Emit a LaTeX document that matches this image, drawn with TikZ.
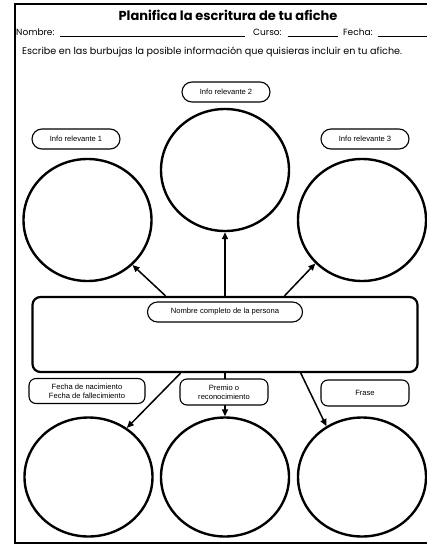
\documentclass[tikz,border=0pt]{standalone}
\usepackage{fontspec}
\setmainfont{Liberation Sans}
\newfontfamily\handfont{Poppins}
\usetikzlibrary{positioning,arrows.meta,shapes.geometric}

\begin{document}
\begin{tikzpicture}[
      x=1pt, y=-1pt,
      bubble/.style  = {ellipse, draw, line width=2.4pt, inner sep=0pt,
                        minimum width=128pt, minimum height=122pt},
      pill/.style    = {rectangle, draw, rounded corners=10pt, line width=1.1pt,
                        fill=white, align=center, minimum width=88pt,
                        minimum height=20pt, inner sep=1pt,
                        font=\fontsize{7.6}{8.6}\selectfont},
      tag/.style     = {pill, rounded corners=7pt, minimum height=26pt},
      mainbox/.style = {rectangle, draw, rounded corners=8pt, line width=2.2pt,
                        minimum width=385pt, minimum height=75pt},
      arrow/.style   = {-{Triangle[length=7pt,width=6pt]}, line width=1.5pt},
      head/.style    = {anchor=west, inner sep=0pt,
                        font=\handfont\fontsize{9}{10}\selectfont}
    ]
    \useasboundingbox (0,0) rectangle (427,546);
    % sheet frame
    \draw[line width=2.4pt] (430,4) -- (15,4) -- (15,543) -- (430,543);

    % header
    \node[font=\handfont\bfseries\fontsize{13}{14}\selectfont] (title)
          at (228,15) {Planifica la escritura de tu afiche};
    \node[head] (nombre) at (16,33) {Nombre:\hspace{6pt}\rule[-1pt]{185pt}{0.5pt}};
    \node[head] (curso)  at (253,33) {Curso:\hspace{6pt}\rule[-1pt]{50pt}{0.5pt}};
    \node[head] (fecha)  at (343,33) {Fecha:\hspace{5pt}\rule[-1pt]{60pt}{0.5pt}};
    \node[head, font=\handfont\fontsize{9.6}{11}\selectfont] (instr) at (22,52)
          {Escribe en las burbujas la posible información que quisieras incluir en tu afiche.};

    % top bubbles
    \node[pill] (info2) at (226,92)  {Info relevante 2};
    \node[pill] (info1) at (76,139)  {Info relevante 1};
    \node[pill] (info3) at (365,139) {Info relevante 3};
    \node[bubble] (b2) at (225,170) {};
    \node[bubble] (b1) at (87.5,220) {};
    \node[bubble] (b3) at (362,220) {};

    % central box
    \node[mainbox] (main) at (225,334.5) {};
    \node[pill, minimum width=155pt] (name) at (225,312)
          {Nombre completo de la persona};

    % bottom bubbles
    \node[bubble, minimum height=119pt] (b4) at (88.5,477) {};
    \node[bubble, minimum height=119pt] (b5) at (225,477)  {};
    \node[bubble, minimum height=119pt] (b6) at (362,477)  {};

    \draw[arrow] (main.147)  -- (b1.-45);
    \draw[arrow] (main.north) -- (b2.south);
    \draw[arrow] (main.33)   -- (b3.-137);
    \draw[arrow] (main.221)  -- (b4.52);
    \draw[arrow] (main.south) -- (b5.north);
    \draw[arrow] (main.-27)  -- (b6.125);

    \node[tag, minimum width=116pt, minimum height=25pt] (birth) at (87,391)
          {Fecha de nacimiento\\Fecha de fallecimiento};
    \node[tag] (prize) at (224,392) {Premio o\\reconocimiento};
    \node[tag] (quote) at (365,393) {Frase};
  \end{tikzpicture}
\end{document}
